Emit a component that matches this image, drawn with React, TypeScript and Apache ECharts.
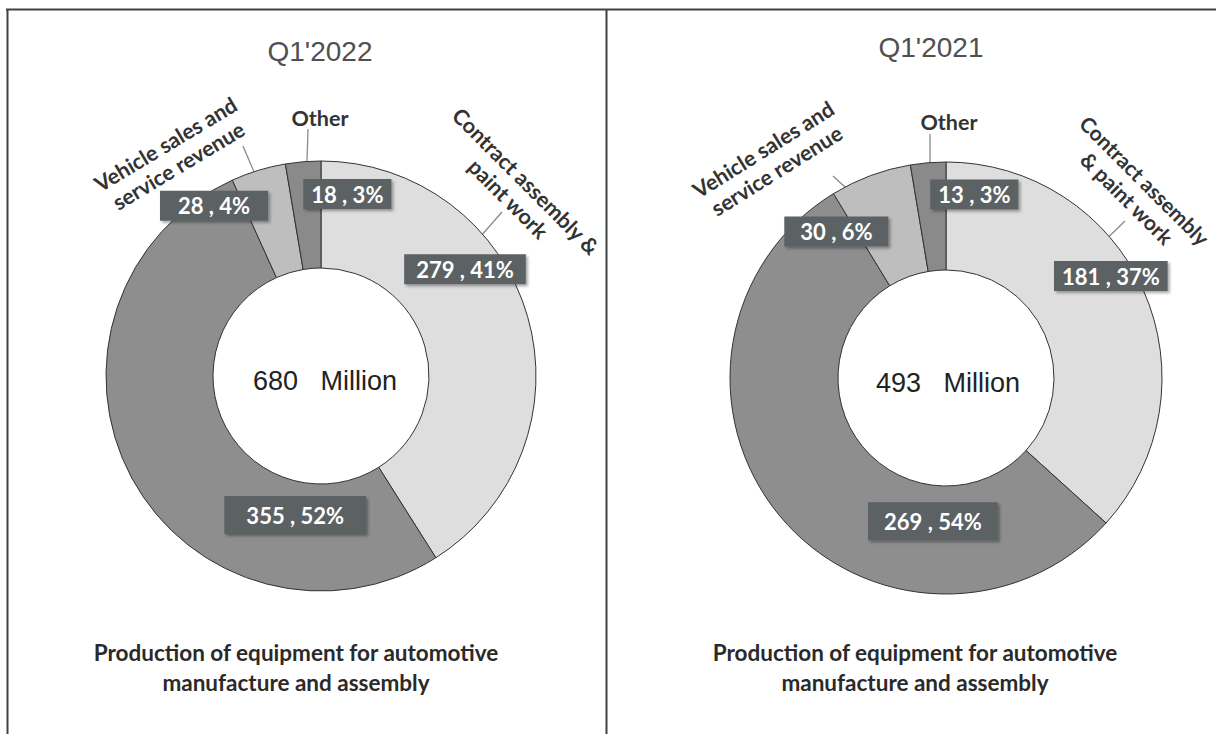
import React, { useEffect, useRef } from "react";
import * as echarts from "echarts";

// ---- data ----
const categories = [
  "Contract assembly & paint work",
  "Production of equipment for automotive manufacture and assembly",
  "Vehicle sales and service revenue",
  "Other",
];
const periods = ["Q1'2022", "Q1'2021"];
const values2022 = [279, 355, 28, 18];
const values2021 = [181, 269, 30, 13];
const totals = [680, 493];
const unit = "Million";
const calloutNames2022 = ["Contract assembly &\npaint work", "", "Vehicle sales and\nservice revenue", "Other"];
const calloutNames2021 = ["Contract assembly\n& paint work", "", "Vehicle sales and\nservice revenue", "Other"];
const captionLines = ["Production of equipment for automotive", "manufacture and assembly"];

// ---- styling ----
const sliceColors = ["#dedede", "#8e8e8e", "#bebebe", "#8a8a8a"];
const FONT = "Lato, 'Open Sans', sans-serif";
const ARIAL = "'Liberation Sans', Arial, sans-serif";

const labelShift = [
  [[-14, -61], [119, 61], [-59, -13], [40, -18]],
  [[14, -35], [114, 38], [-52, 8], [42, -19]],
];
const labelPad = [
  [[2, 12], [6, 22], [2, 18], [2, 8]],
  [[2, 8], [6, 16], [2, 16], [2, 8]],
];

const deg = (d: number) => (d * Math.PI) / 180;

function arrow(x1: number, y1: number, x2: number, y2: number, head = true) {
  const dx = x2 - x1;
  const dy = y2 - y1;
  const len = Math.sqrt(dx * dx + dy * dy);
  const ux = dx / len;
  const uy = dy / len;
  const bx = x2 - ux * 8;
  const by = y2 - uy * 8;
  const nx = -uy * 3.5;
  const ny = ux * 3.5;
  const els: any[] = [
    { type: "line", shape: { x1, y1, x2: head ? bx : x2, y2: head ? by : y2 }, style: { stroke: "#8a8a8a", lineWidth: 1.3 } },
  ];
  if (head) {
    els.push({
      type: "polygon",
      shape: { points: [[x2, y2], [bx + nx, by + ny], [bx - nx, by - ny]] },
      style: { fill: "#8a8a8a" },
    });
  }
  return els;
}

function txt(x: number, y: number, text: string, size: number, opts: any = {}) {
  return {
    type: "text",
    x,
    y,
    rotation: opts.rotation || 0,
    style: {
      text,
      fill: opts.fill || "#333",
      fontSize: size,
      fontFamily: opts.family || FONT,
      fontWeight: opts.weight || "bold",
      align: "center",
      verticalAlign: "middle",
      textAlign: "center",
      textVerticalAlign: "middle",
      lineHeight: opts.lineHeight || size * 1.2,
    },
  };
}

function pieSeries(values: number[], idx: number, center: [number, number], radius: [number, number]) {
  return {
    type: "pie",
    center,
    radius,
    startAngle: 90,
    clockwise: true,
    percentPrecision: 0,
    avoidLabelOverlap: false,
    itemStyle: { borderColor: "#333", borderWidth: 1 },
    emphasis: { disabled: true },
    labelLine: { show: false },
    label: {
      show: true,
      position: "inside",
      formatter: "{c} , {d}%",
      color: "#fff",
      fontFamily: FONT,
      fontWeight: "bold",
      fontSize: 22,
      lineHeight: 26,
      backgroundColor: "#5c6264",
      shadowColor: "rgba(0,0,0,0.35)",
      shadowBlur: 3,
      shadowOffsetX: 2,
      shadowOffsetY: 2,
    },
    labelLayout: (p: any) => ({ dx: labelShift[idx][p.dataIndex][0], dy: labelShift[idx][p.dataIndex][1] }),
    data: values.map((v, i) => ({
      name: categories[i],
      value: v,
      itemStyle: { color: sliceColors[i] },
      label: { padding: labelPad[idx][i] },
    })),
  };
}

export default function App() {
  const ref = useRef<HTMLDivElement>(null);
  useEffect(() => {
    if (!ref.current) return;
    const chart = echarts.init(ref.current, null, { renderer: "svg" });
    const border = "#3b4242";
    const CS = 21.5;
    const graphic: any[] = [
      { type: "line", shape: { x1: 6, y1: 9.5, x2: 1216, y2: 9.5 }, style: { stroke: border, lineWidth: 2 } },
      { type: "line", shape: { x1: 7.5, y1: 9, x2: 7.5, y2: 734 }, style: { stroke: border, lineWidth: 2 } },
      { type: "line", shape: { x1: 606.5, y1: 9, x2: 606.5, y2: 734 }, style: { stroke: border, lineWidth: 2 } },
      // titles
      txt(320, 51, periods[0], 28, { family: ARIAL, weight: "normal", fill: "#505050" }),
      txt(931, 47, periods[1], 28, { family: ARIAL, weight: "normal", fill: "#505050" }),
      // centre totals
      txt(325, 381, `${totals[0]}   ${unit}`, 27, { family: ARIAL, weight: "normal", fill: "#222" }),
      txt(948, 383, `${totals[1]}   ${unit}`, 27, { family: ARIAL, weight: "normal", fill: "#222" }),
      // captions
      txt(296, 667, captionLines.join("\n"), 22.5, { lineHeight: 30, fill: "#2a2a2a" }),
      txt(915, 667, captionLines.join("\n"), 22.5, { lineHeight: 30, fill: "#2a2a2a" }),
      // callouts left
      txt(517, 190, calloutNames2022[0], CS, { rotation: deg(-45), lineHeight: 25, fill: "#333" }),
      ...arrow(502, 212, 466, 253),
      txt(320, 118, calloutNames2022[3], CS, { fill: "#333" }),
      ...arrow(308, 129, 307, 161, false),
      txt(172, 155, calloutNames2022[2], CS, { rotation: deg(31), lineHeight: 25, fill: "#333" }),
      ...arrow(243, 146, 260, 186),
      // callouts right
      txt(1136, 189, calloutNames2021[0], 21, { rotation: deg(-45), lineHeight: 25, fill: "#333" }),
      ...arrow(1125, 221, 1092, 253),
      txt(949, 122, calloutNames2021[3], CS, { fill: "#333" }),
      ...arrow(930, 134, 930, 164, false),
      txt(770, 160, calloutNames2021[2], CS, { rotation: deg(32), lineHeight: 25, fill: "#333" }),
      ...arrow(833, 176, 870, 210),
    ];
    chart.setOption({
      animation: false,
      backgroundColor: "#fff",
      tooltip: { show: false },
      series: [
        pieSeries(values2022, 0, [321, 376], [108, 215]),
        pieSeries(values2021, 1, [946, 378], [108, 216]),
      ],
      graphic,
    });
    return () => chart.dispose();
  }, []);
  return <div ref={ref} style={{ position: "absolute", left: 0, top: 0, width: 1216, height: 734 }} />;
}
